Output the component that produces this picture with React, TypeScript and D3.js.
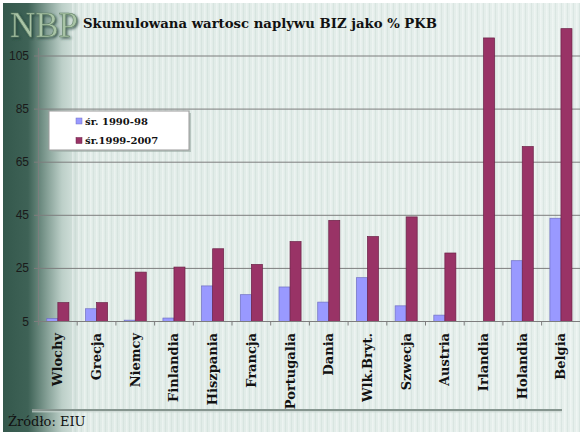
import React from "react";
import * as d3 from "d3";

const categories = ["Wlochy", "Grecja", "Niemcy", "Finlandia", "Hiszpania", "Francja", "Portugalia", "Dania", "Wlk.Bryt.", "Szwecja", "Austria", "Irlandia", "Holandia", "Belgia"];
const series1990 = [6.1, 9.8, 5.5, 6.3, 18.4, 15.1, 18.0, 12.3, 21.5, 10.9, 7.4, 5.0, 27.9, 43.9];
const series1999 = [12.1, 12.1, 23.6, 25.5, 32.4, 26.5, 35.1, 43.1, 37.0, 44.4, 30.8, 111.8, 70.9, 115.3];
const yTicks = [5, 25, 45, 65, 85, 105];
const seriesNames = ["śr. 1990-98", "śr.1999-2007"];
const seriesColors = ["#9999ff", "#993366"];
const seriesStrokes = ["#6f6fc4", "#6b2146"];
const titleText = "Skumulowana wartosc naplywu BIZ jako % PKB";
const sourceText = "Źródło: EIU";

const W = 580;
const H = 432;
const plotLeft = 38.5;
const plotRight = 580.3;
const baseY = 321.5;
const topY = 56;

export default function App() {
  const x = d3.scaleBand<string>().domain(categories).range([plotLeft, plotRight]).paddingInner(0.43).paddingOuter(0.215);
  const sub = d3.scaleBand<number>().domain([0, 1]).range([0, x.bandwidth()]).padding(0);
  const y = d3.scaleLinear().domain([5, 105]).range([baseY, topY]);
  const step = x.step();
  const sers = [series1990, series1999];

  return (
    <div style={{ position: "fixed", left: 0, top: 0, width: W, height: H }}>
      <svg width={W} height={H} style={{ display: "block" }}>
        <defs>
          <linearGradient id="bgGrad" x1="0" y1="0" x2={W} y2="0" gradientUnits="userSpaceOnUse">
            <stop offset={0} stopColor="#33574b" />
            <stop offset={28 / W} stopColor="#3e6256" />
            <stop offset={45 / W} stopColor="#7d998f" />
            <stop offset={62 / W} stopColor="#bccfc8" />
            <stop offset={82 / W} stopColor="#e0ebe7" />
            <stop offset={1} stopColor="#e6efec" />
          </linearGradient>
          <pattern id="stripes" width={6} height={10} patternUnits="userSpaceOnUse">
            <rect x={0} y={0} width={1.5} height={10} fill="#ffffff" opacity={0.35} />
            <rect x={3} y={0} width={1} height={10} fill="#b9cbc4" opacity={0.25} />
          </pattern>
          <filter id="logoShadow" x="-20%" y="-20%" width="140%" height="140%">
            <feDropShadow dx={1.5} dy={1.5} stdDeviation={1} floodColor="#1d3a30" floodOpacity={0.7} />
          </filter>
        </defs>
        <rect x={0} y={0} width={W} height={H} fill="#ffffff" />
        <rect x={3} y={3} width={W - 3} height={H - 3} fill="url(#bgGrad)" />
        <rect x={70} y={3} width={W - 70} height={H - 3} fill="url(#stripes)" />

        {/* Logo */}
        <text x={10} y={37} fontFamily="Liberation Serif, serif" fontSize={35} fill="#a9c4a6" stroke="#5f7f66" strokeWidth={0.6} filter="url(#logoShadow)">NBP</text>
        {/* Title */}
        <text x={83} y={28} fontFamily="DejaVu Serif, serif" fontWeight="bold" fontSize={13} fill="#111" textLength={354} lengthAdjust="spacingAndGlyphs">{titleText}</text>

        {/* Gridlines */}
        {yTicks.map((t) => (
          <g key={t}>
            <line x1={34} x2={W} y1={y(t)} y2={y(t)} stroke="#7d7d7d" strokeWidth={1} />
            <text x={29} y={y(t)} textAnchor="end" dominantBaseline="central" fontFamily="Liberation Sans, Arial, sans-serif" fontSize={12} fill="#1a1a1a">{t}</text>
          </g>
        ))}
        {/* Y axis */}
        <line x1={plotLeft} x2={plotLeft} y1={48} y2={baseY} stroke="#7d7d7d" strokeWidth={1} />

        {/* Bars */}
        {categories.map((c, i) => (
          <g key={c}>
            {sers.map((s, k) => {
              const v = s[i];
              const h = Math.max(0, baseY - y(v));
              if (h <= 0) return null;
              return (
                <rect key={k} x={(x(c) as number) + (sub(k) as number)} y={y(v)} width={sub.bandwidth()} height={h}
                  fill={seriesColors[k]} stroke={seriesStrokes[k]} strokeWidth={0.7} />
              );
            })}
          </g>
        ))}

        {/* X axis */}
        <line x1={plotLeft} x2={W} y1={baseY} y2={baseY} stroke="#7d7d7d" strokeWidth={1} />
        {categories.map((c, i) => (
          <line key={"t" + c} x1={plotLeft + i * step} x2={plotLeft + i * step} y1={baseY} y2={baseY + 4} stroke="#7d7d7d" strokeWidth={1} />
        ))}
        {categories.map((c) => {
          const cx = (x(c) as number) + x.bandwidth() / 2;
          return (
            <text key={"l" + c} transform={`translate(${cx},333) rotate(-90)`} textAnchor="end" dominantBaseline="central"
              fontFamily="DejaVu Serif, serif" fontWeight="bold" fontSize={13} fill="#111">{c}</text>
          );
        })}

        {/* Legend */}
        <rect x={51} y={113} width={140} height={39} fill="#9aaaa4" opacity={0.6} />
        <rect x={49} y={111} width={140} height={39} fill="#ffffff" stroke="#9a9a9a" strokeWidth={1} />
        {seriesNames.map((n, k) => (
          <g key={n}>
            <rect x={76} y={118 + k * 19.5} width={6} height={6} fill={seriesColors[k]} stroke={seriesStrokes[k]} strokeWidth={0.5} />
            <text x={85} y={124.5 + k * 19.5} fontFamily="DejaVu Serif, serif" fontWeight="bold" fontSize={10} fill="#111">{n}</text>
          </g>
        ))}

        {/* Bottom separator */}
        <line x1={32} x2={562} y1={410} y2={410} stroke="#86958f" strokeWidth={2} />
        <line x1={32} x2={562} y1={411.8} y2={411.8} stroke="#c9d5d0" strokeWidth={1} />

        {/* Source */}
        <text x={8} y={426} fontFamily="DejaVu Serif, serif" fontSize={13} fill="#111">{sourceText}</text>
      </svg>
    </div>
  );
}
